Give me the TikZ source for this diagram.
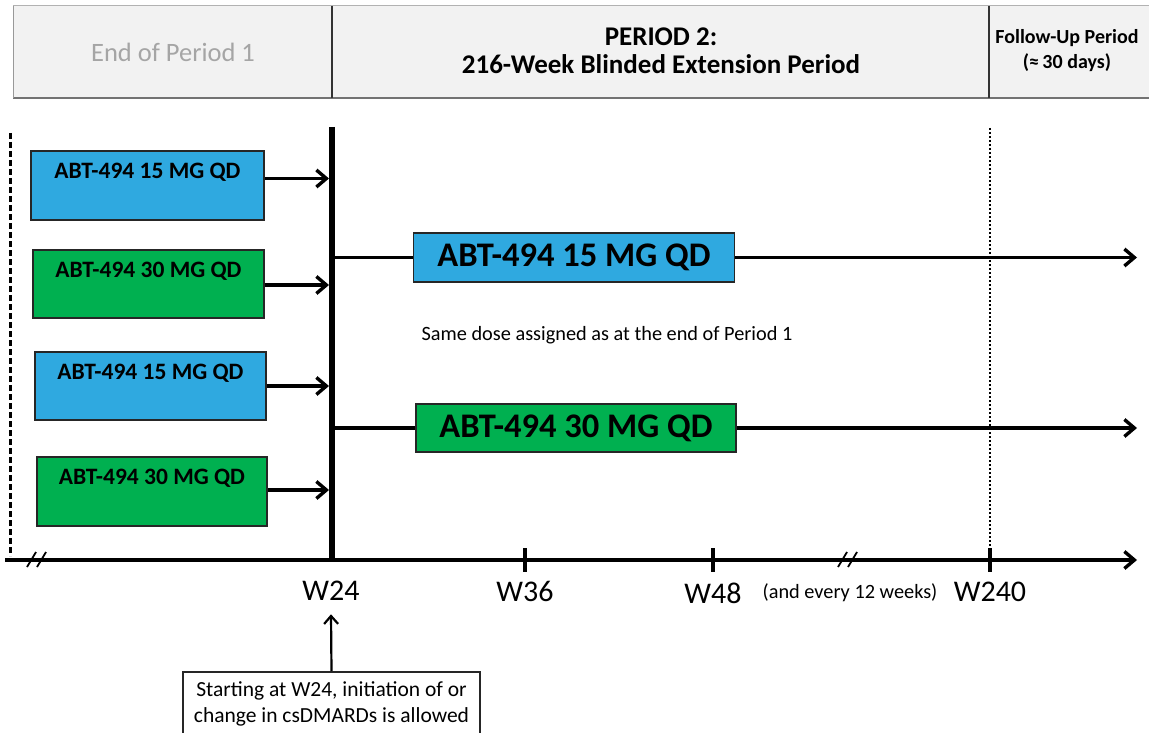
\documentclass[tikz,border=0pt]{standalone}
\usepackage{fontspec}
\setmainfont{Carlito}
\usetikzlibrary{arrows.meta}
\definecolor{doseblue}{RGB}{47,169,224}
\definecolor{dosegreen}{RGB}{0,176,80}
\definecolor{headgray}{RGB}{242,242,242}
\definecolor{headtext}{RGB}{165,165,165}
\tikzset{
  barb/.style={-{Straight Barb[length=10pt,width=17pt,line width=3.4pt]}},
  oldbox/.style={draw=black!85,line width=1.5pt,inner sep=0pt,minimum width=231pt,
    minimum height=68pt,text height=16pt,text depth=30pt,
    font=\fontsize{23.5}{27}\selectfont\bfseries},
  newbox/.style={draw=black!85,line width=1.5pt,inner sep=0pt,minimum width=321pt,
    minimum height=49pt,font=\fontsize{34.5}{38}\selectfont\bfseries},
  weeklbl/.style={font=\fontsize{30}{34}\selectfont},
  headlbl/.style={font=\fontsize{27}{28}\selectfont\bfseries,align=center}
}
\begin{document}
\begin{tikzpicture}[x=1pt,y=-1pt,line cap=butt]
  \useasboundingbox (0,0) rectangle (1149,733);
  % header
  \fill[headgray] (13,6) rectangle (1149,98);
  \draw[black!30,line width=1pt] (13,6) -- (1149,6);
  \draw[black!55,line width=1.8pt] (13,98) -- (1149,98);
  \draw[black!40,line width=1pt] (13,6) -- (13,98);
  \draw[black!80,line width=1.2pt] (332,6) -- (332,98) (989,6) -- (989,98);
  \node[font=\fontsize{26.5}{30}\selectfont,text=headtext] (p1) at (173,52) {End of Period 1};
  \node[headlbl] (p2) at (661,51) {PERIOD 2:\\216-Week Blinded Extension Period};
  \node[headlbl,font=\fontsize{20}{25}\selectfont\bfseries] (fu) at (1067,51) {Follow-Up Period\\(≈\,30 days)};

  % time axis
  \coordinate (a0) at (5,560);
  \coordinate (a1) at (1137,560);
  \coordinate (w24top) at (332,127);
  \coordinate (w24) at (332,561);
  \draw[barb,line width=3.4pt] (a0) -- (a1);
  \draw[line width=3pt,dash pattern=on 6pt off 3pt] (10,133) -- (10,556);
  \draw[line width=2.2pt,dash pattern=on 2pt off 2pt] (990,128) -- (990,548);
  \draw[line width=6.5pt] (w24top) -- (w24);
  \foreach \x in {525,713,990}
    \draw[line width=3.4pt] (\x,548) -- (\x,572);
  \foreach \x in {27,37,838,848}
    \draw[line width=1.8pt] (\x,567) -- (\x+9,552);

  \node[weeklbl] (l24) at (331,591) {W24};
  \node[weeklbl] (l36) at (525,591) {W36};
  \node[weeklbl] (l48) at (713,593) {W48};
  \node[weeklbl] (l240) at (990,592) {W240};
  \node[font=\fontsize{20.3}{24}\selectfont] (every) at (850,593) {(and every 12 weeks)};

  % end of period 1 doses
  \node[oldbox,fill=doseblue,minimum width=233pt,minimum height=69pt] (b1) at (147.5,185.5) {ABT-494 15 MG QD};
  \node[oldbox,fill=dosegreen] (b2) at (148.5,284) {ABT-494 30 MG QD};
  \node[oldbox,fill=doseblue] (b3) at (150.5,386) {ABT-494 15 MG QD};
  \node[oldbox,fill=dosegreen,minimum width=230pt,minimum height=69pt] (b4) at (152,491.5) {ABT-494 30 MG QD};
  \foreach \b/\dy in {b1/7,b2/-1,b3/0,b4/1.5}
    \draw[barb,line width=3.4pt,shorten >=3pt] ([yshift=\dy]\b.east) -- ([yshift=\dy]\b.east -| w24);

  % period 2 doses
  \node[newbox,fill=doseblue] (n1) at (574,257.5) {ABT-494 15 MG QD};
  \node[newbox,fill=dosegreen,minimum width=320pt,minimum height=48pt] (n2) at (576,428) {ABT-494 30 MG QD};
  \draw[line width=3.4pt] (n1.west -| w24) -- (n1.west);
  \draw[line width=3.4pt] (n2.west -| w24) -- (n2.west);
  \draw[barb,line width=3.4pt] (n1.east) -- (n1.east -| a1);
  \draw[barb,line width=3.4pt] (n2.east) -- (n2.east -| a1);
  \node[font=\fontsize{20.3}{24}\selectfont] (same) at (607,335) {Same dose assigned as at the end of Period 1};

  % note below
  \node[draw=black!85,line width=1.5pt,minimum width=297pt,minimum height=66pt,anchor=north,
    align=center,font=\fontsize{21.5}{26}\selectfont,text depth=6pt] (note) at (331.5,671) {Starting at W24, initiation of or\\change in csDMARDs is allowed};
  \draw[-{Straight Barb[length=8pt,width=14pt,line width=2.2pt]},line width=2.2pt] (note.north) -- ([yshift=-10pt]l24.south);
\end{tikzpicture}
\end{document}
